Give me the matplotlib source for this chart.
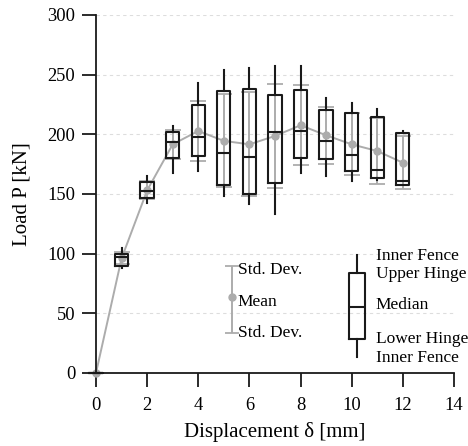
import matplotlib
matplotlib.use("Agg")
import matplotlib.pyplot as plt

# Load-displacement test results at each displacement step
disp = [0, 1, 2, 3, 4, 5, 6, 7, 8, 9, 10, 11, 12]
load_mean = [0, 96, 153, 191.6, 202.8, 194.5, 191.6, 198.6, 207.6, 199.2, 191.6, 186, 176.2]
load_std = [0, 5, 7.5, 12, 25, 39, 43.5, 43.5, 33.6, 24, 26, 28, 22]
load_median = [0, 97.5, 152.4, 193.5, 197.7, 184, 180.9, 202, 202.8, 194.4, 182.6, 170, 161.3]
load_q1 = [0, 90, 147, 180.4, 181.8, 157.3, 149.6, 159.4, 179.8, 179, 169.2, 163, 157.4]
load_q3 = [0, 99.7, 159.7, 202, 224.4, 236.2, 237.8, 233, 237.2, 220.4, 217.6, 214.9, 200.8]
load_fence_lo = [0, 88, 142.6, 167.8, 169.2, 148.2, 141.2, 133.3, 167.2, 165, 160.8, 161.6, 157.4]
load_fence_hi = [0, 104.8, 165, 207, 242.6, 254.3, 255.5, 257.4, 257.4, 230.3, 226, 221.6, 202.8]

x_ticks = [0, 2, 4, 6, 8, 10, 12, 14]
y_ticks = [0, 50, 100, 150, 200, 250, 300]

plt.rcParams['font.family'] = ['Liberation Serif', 'DejaVu Serif']

GRAY = '#acacac'
DARK = '#1a1a1a'
FS_TICK = 13.3
FS_KEY = 12.5
FS_LABEL = 15

fig = plt.figure(figsize=(4.68, 4.46), dpi=100)
ax = fig.add_axes([0.2051, 0.1637, 0.7649, 0.8027])

# horizontal dashed grid
for yv in y_ticks[1:]:
    ax.plot([0, 14], [yv, yv], color='#dddddd', lw=0.8, ls=(0, (3, 3)), zorder=0)

# mean +- std, with the mean trend line
ax.errorbar(disp, load_mean, yerr=load_std, color=GRAY, lw=1.4, elinewidth=1.4,
            capsize=6, capthick=1.3, marker='o', ms=5, zorder=2, clip_on=False)

# box plots
stats = []
for i in range(len(disp)):
    stats.append(dict(med=load_median[i], q1=load_q1[i], q3=load_q3[i],
                      whislo=load_fence_lo[i], whishi=load_fence_hi[i], fliers=[]))
lp = dict(color=DARK, lw=1.5)
art = ax.bxp(stats, positions=disp, widths=0.52, showcaps=False, showfliers=False,
             boxprops=lp, whiskerprops=lp, medianprops=lp, manage_ticks=False,
             zorder=3)
for group in art.values():
    for a in group:
        a.set_clip_on(False)

# key: mean / std
lx = 5.3
ax.errorbar([lx], [63.6], yerr=[[29.7], [25.7]], color=GRAY, elinewidth=1.4,
            capsize=5, capthick=1.3, marker='o', ms=5, zorder=2)
ax.text(lx + 0.25, 86.0, 'Std. Dev.', fontsize=FS_KEY, va='center', ha='left')
ax.text(lx + 0.25, 59.5, 'Mean', fontsize=FS_KEY, va='center', ha='left')
ax.text(lx + 0.25, 33.5, 'Std. Dev.', fontsize=FS_KEY, va='center', ha='left')

# key: box plot
bx = 10.2
ax.bxp([dict(med=54.9, q1=28.3, q3=83.8, whislo=13.7, whishi=99.2, fliers=[])],
       positions=[bx], widths=0.62, showcaps=False, showfliers=False,
       boxprops=lp, whiskerprops=lp, medianprops=lp, manage_ticks=False, zorder=3)
tx = 10.94
ax.text(tx, 98.0, 'Inner Fence', fontsize=FS_KEY, va='center', ha='left')
ax.text(tx, 83.3, 'Upper Hinge', fontsize=FS_KEY, va='center', ha='left')
ax.text(tx, 57.0, 'Median', fontsize=FS_KEY, va='center', ha='left')
ax.text(tx, 28.8, 'Lower Hinge', fontsize=FS_KEY, va='center', ha='left')
ax.text(tx, 12.3, 'Inner Fence', fontsize=FS_KEY, va='center', ha='left')

ax.set_xlim(0, 14)
ax.set_ylim(0, 300)
ax.set_xticks(x_ticks)
ax.set_yticks(y_ticks)
for s in ['top', 'right']:
    ax.spines[s].set_visible(False)
for s in ['left', 'bottom']:
    ax.spines[s].set_linewidth(1.3)
    ax.spines[s].set_color(DARK)
ax.tick_params(direction='out', length=10, width=1.3, labelsize=FS_TICK, color=DARK)
ax.tick_params(axis='x', pad=7)
ax.tick_params(axis='y', pad=5)
ax.set_xlabel('Displacement δ [mm]', fontsize=FS_LABEL, labelpad=6)
ax.set_ylabel('Load P [kN]', fontsize=FS_LABEL, labelpad=11)

fig.savefig('out.png', dpi=100)
